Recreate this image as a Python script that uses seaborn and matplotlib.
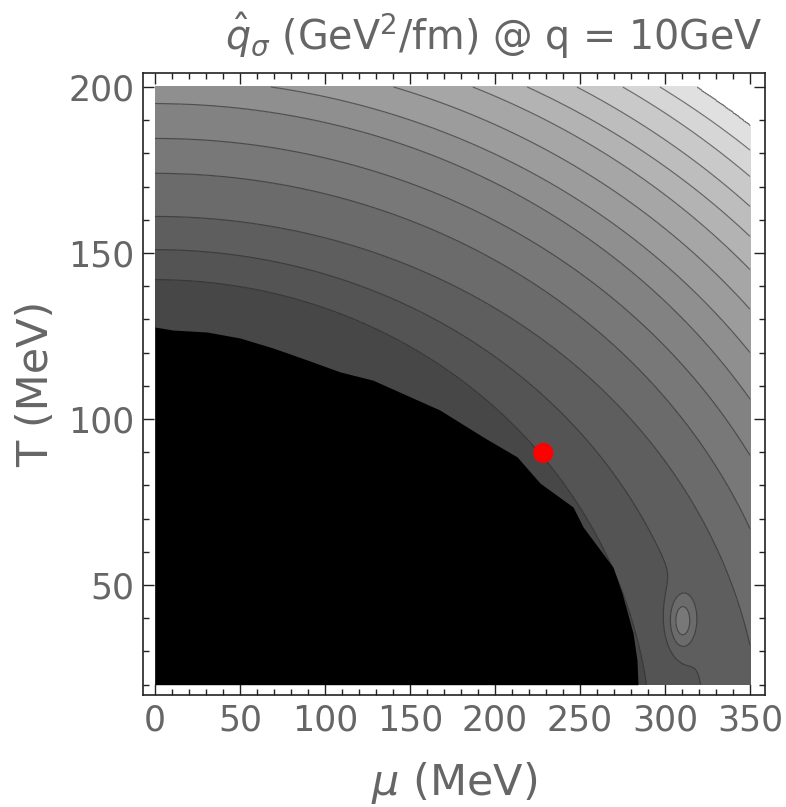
import numpy as np
import matplotlib
matplotlib.use("Agg")
import matplotlib.pyplot as plt
from matplotlib.colors import ListedColormap, BoundaryNorm
from matplotlib.ticker import MultipleLocator
import seaborn as sns

# ---- data (MeV) ----
# Each contour is described by where it meets the mu=0 axis (T0) and the T=0 axis (mu0)
# index 0 = edge of the black region, last = edge of the white (clipped) corner
contour_T0 = [127.7, 142.0, 151.0, 161.0, 174.0, 184.5, 195.0, 202.5,
              210.4, 218.1, 224.2, 230.7, 237.2, 242.1, 248.5]
contour_mu0 = [287.9, 291.9, 323.8, 357.1, 379.2, 399.6, 417.0, 434.5,
               451.8, 468.5, 484.4, 497.7, 511.7, 527.0, 537.6]
# grey level of each band between consecutive contours
band_gray = [0.28, 0.33, 0.37, 0.42, 0.47, 0.51, 0.56, 0.61,
             0.65, 0.70, 0.74, 0.79, 0.84, 0.88]
# jagged edge of the black (clipped) region
black_mu = [0, 10.6, 30.6, 50, 69.4, 89.4, 108.8, 128.2, 167.6, 193, 213,
            226.5, 245.9, 251.8, 269.4, 274.7, 281.2, 283.5, 284.1]
black_T = [127.7, 126.8, 126.2, 124.4, 121.4, 117.8, 114.2, 111.7, 102.7, 94.6,
           88.6, 80.7, 73.5, 67.5, 55.4, 47.6, 35.5, 27.4, 20.0]
# small local maximum (island) near the bottom right
island_mu, island_T = 310.0, 39.0
island_height = 2.7
island_sd_mu, island_sd_T = 5.6, 5.8
# highlighted point
point_mu = [228.4]
point_T = [89.8]
mu_range = (0, 350)
T_range = (20, 200)

# ---- field built from the contour description ----
mu = np.linspace(*mu_range, 701)
T = np.linspace(*T_range, 541)
MU, TT = np.meshgrid(mu, T)
S = np.array([np.sqrt((MU / a) ** 2 + (TT / b) ** 2)
              for a, b in zip(contour_mu0, contour_T0)])
n = len(contour_T0)
F = np.full(MU.shape, np.nan)
F[S[0] < 1] = 0.0
F[S[-1] >= 1] = n + 0.5
for i in range(n - 1):
    m = (S[i] >= 1) & (S[i + 1] < 1)
    F[m] = i + (S[i][m] - 1) / (S[i][m] - S[i + 1][m])
F = F + island_height * np.exp(-((MU - island_mu) ** 2 / (2 * island_sd_mu ** 2)
                                  + (TT - island_T) ** 2 / (2 * island_sd_T ** 2)))

sns.set_style("white")
plt.rcParams['font.family'] = ['DejaVu Sans']
plt.rcParams['mathtext.fontset'] = 'dejavusans'

fig = plt.figure(figsize=(7.86, 8.07), dpi=100)
ax = fig.add_axes([143 / 786, 1 - 695 / 807, (765 - 143) / 786, (695 - 73) / 807])

levels = [-1] + list(range(1, n))  # band below line 1 is one piece
colors = [str(g) for g in band_gray]
cmap = ListedColormap(colors)
norm = BoundaryNorm(levels, cmap.N)
ax.contourf(MU, TT, F, levels=levels, cmap=cmap, norm=norm)
ax.contour(MU, TT, F, levels=np.arange(1, n), colors='#262626', linewidths=0.85, alpha=0.6)
ax.fill_between(black_mu, T_range[0], black_T, color='black', lw=0, zorder=3)

sns.scatterplot(x=point_mu, y=point_T, color='red', s=210, edgecolor='none', ax=ax, zorder=5)

ax.set_xlim(-7.06, 358.8)
ax.set_ylim(16.9, 204.2)
ax.set_xticks(range(0, 351, 50))
ax.set_yticks(range(50, 201, 50))
ax.xaxis.set_minor_locator(MultipleLocator(10))
ax.yaxis.set_minor_locator(MultipleLocator(10))
ax.tick_params(which='both', direction='in', bottom=True, left=True, top=True, right=True,
               color='#222222', width=1.0)
ax.tick_params(which='major', length=8, labelsize=25, labelcolor='#666666', pad=6)
ax.tick_params(which='minor', length=4)
for sp in ax.spines.values():
    sp.set_color('#222222')
    sp.set_linewidth(1.2)

ax.set_xlabel(r'$\mu$ (MeV)', fontsize=31, color='#666666', labelpad=16)
ax.set_ylabel('T (MeV)', fontsize=31, color='#666666', labelpad=8)
fig.text(494 / 786, 1 - 36 / 807, r'$\hat{q}_\sigma$ (GeV$^2$/fm) @ q = 10GeV',
         fontsize=28.5, color='#666666', ha='center', va='center')

fig.savefig('out.png', dpi=100)
